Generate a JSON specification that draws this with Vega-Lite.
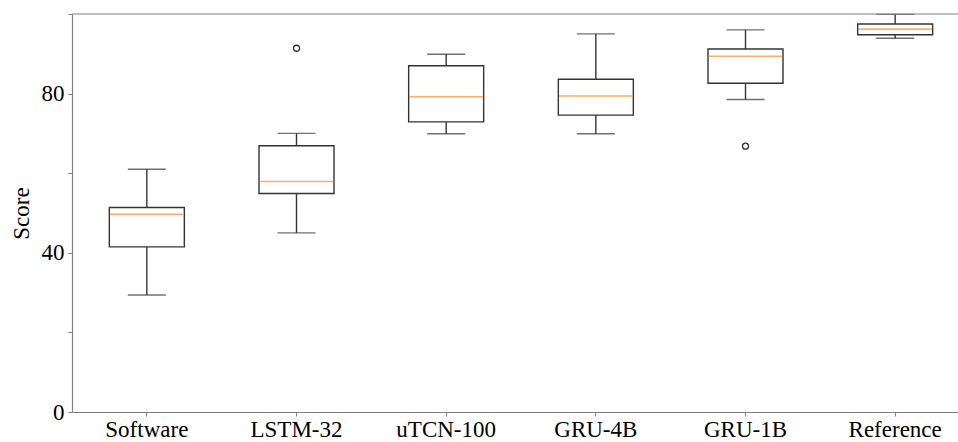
{
  "$schema": "https://vega.github.io/schema/vega-lite/v6.json",
  "width": 886,
  "height": 398,
  "autosize": {"type": "none"},
  "padding": {"left": 72, "top": 14, "right": 0, "bottom": 30},
  "background": "white",
  "config": {
    "view": {"stroke": null},
    "axis": {
      "grid": false,
      "domainColor": "#808080",
      "domainWidth": 1.2,
      "tickColor": "#808080",
      "tickSize": 4,
      "labelFont": "Liberation Serif",
      "labelFontSize": 23,
      "labelColor": "#000000",
      "titleFont": "Liberation Serif",
      "titleFontSize": 23,
      "titleFontWeight": "normal",
      "titleColor": "#000000"
    }
  },
  "datasets": {
    "summary": [
      {"model": "Software", "lower": 29.4, "q1": 41.5, "median": 49.7, "q3": 51.4, "upper": 61.0},
      {"model": "LSTM-32", "lower": 45.0, "q1": 54.9, "median": 57.9, "q3": 66.9, "upper": 70.0},
      {"model": "uTCN-100", "lower": 69.9, "q1": 72.9, "median": 79.2, "q3": 87.0, "upper": 89.9},
      {"model": "GRU-4B", "lower": 69.9, "q1": 74.6, "median": 79.4, "q3": 83.6, "upper": 95.0},
      {"model": "GRU-1B", "lower": 78.5, "q1": 82.6, "median": 89.4, "q3": 91.2, "upper": 96.0},
      {"model": "Reference", "lower": 93.9, "q1": 94.8, "median": 96.2, "q3": 97.5, "upper": 99.9}
    ],
    "outliers": [
      {"model": "LSTM-32", "score": 91.4},
      {"model": "GRU-1B", "score": 66.8}
    ]
  },
  "encoding": {
    "x": {
      "field": "model",
      "type": "nominal",
      "sort": ["Software", "LSTM-32", "uTCN-100", "GRU-4B", "GRU-1B", "Reference"],
      "scale": {"range": [0, 898], "paddingInner": 0, "paddingOuter": 0},
      "axis": {"title": null, "labelAngle": 0, "labelPadding": 2}
    }
  },
  "layer": [
    {
      "data": {"name": "summary"},
      "mark": {"type": "rule", "color": "#333333", "strokeWidth": 1.4},
      "encoding": {
        "y": {
          "field": "lower",
          "type": "quantitative",
          "scale": {"domain": [0, 100], "nice": false, "zero": false},
          "axis": {
            "title": "Score",
            "values": [0, 20, 40, 60, 80, 100],
            "labelExpr": "datum.value % 40 == 0 ? datum.label : ''",
            "labelPadding": 4,
            "titlePadding": 8
          }
        },
        "y2": {"field": "q1"}
      }
    },
    {
      "data": {"name": "summary"},
      "mark": {"type": "rule", "color": "#333333", "strokeWidth": 1.4},
      "encoding": {
        "y": {"field": "q3", "type": "quantitative"},
        "y2": {"field": "upper"}
      }
    },
    {
      "data": {"name": "summary"},
      "mark": {"type": "tick", "color": "#333333", "thickness": 1.4, "size": 38},
      "encoding": {"y": {"field": "lower", "type": "quantitative"}}
    },
    {
      "data": {"name": "summary"},
      "mark": {"type": "tick", "color": "#333333", "thickness": 1.4, "size": 38},
      "encoding": {"y": {"field": "upper", "type": "quantitative"}}
    },
    {
      "data": {"name": "summary"},
      "mark": {"type": "bar", "fill": "white", "stroke": "#333333", "strokeWidth": 1.4, "size": 75},
      "encoding": {
        "y": {"field": "q1", "type": "quantitative"},
        "y2": {"field": "q3"}
      }
    },
    {
      "data": {"name": "summary"},
      "mark": {"type": "tick", "color": "#ff8c2a", "thickness": 1.6, "size": 74},
      "encoding": {"y": {"field": "median", "type": "quantitative"}}
    },
    {
      "data": {"name": "outliers"},
      "mark": {"type": "point", "shape": "circle", "filled": false, "stroke": "#333333", "strokeWidth": 1.3, "size": 36, "opacity": 1},
      "encoding": {"y": {"field": "score", "type": "quantitative"}}
    },
    {
      "data": {"values": [{"edge": "top"}]},
      "mark": {"type": "rule", "color": "#808080", "strokeWidth": 1.2},
      "encoding": {"x": null, "y": {"datum": 100, "type": "quantitative"}}
    }
  ]
}
